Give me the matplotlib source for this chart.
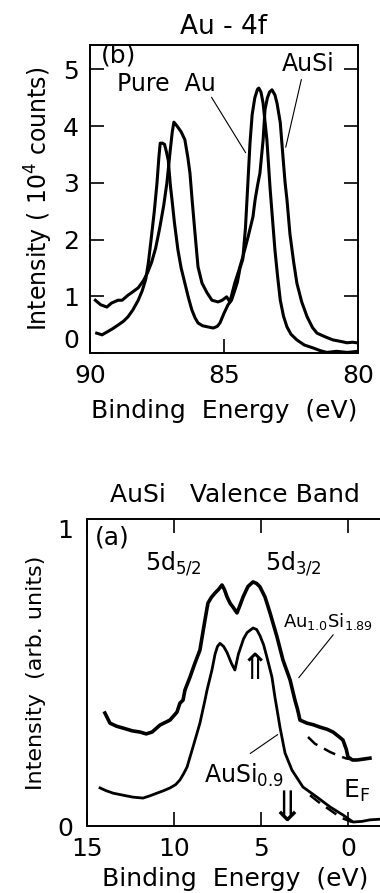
import matplotlib
matplotlib.use("Agg")
import matplotlib.pyplot as plt

plt.rcParams['font.family'] = ['DejaVu Sans']
plt.rcParams['mathtext.default'] = 'regular'

# ---- (b) Au-4f core level ----
pure_e = [89.75, 89.55, 89.33, 89.15, 88.96, 88.75, 88.58, 88.4, 88.2, 88.05, 87.92,
          87.82, 87.72, 87.6, 87.5, 87.43, 87.38, 87.3, 87.22, 87.15, 87.08, 87.0,
          86.94, 86.85, 86.72, 86.6, 86.46, 86.33, 86.2, 86.08, 85.97, 85.8, 85.6,
          85.4, 85.25, 85.15, 85.0, 84.85, 84.72, 84.6, 84.5, 84.4, 84.3, 84.2,
          84.12, 84.03, 83.95, 83.85, 83.75, 83.7, 83.62, 83.54, 83.4, 83.28,
          83.18, 83.1, 83.0, 82.9, 82.78, 82.65, 82.5, 82.28, 82.0, 81.68, 81.4,
          81.16, 80.8, 80.4, 80.0]
pure_i = [0.35, 0.32, 0.38, 0.43, 0.49, 0.56, 0.64, 0.76, 0.93, 1.1, 1.3,
          1.6, 2.0, 2.5, 3.0, 3.45, 3.70, 3.70, 3.68, 3.55, 3.4, 2.95,
          2.7, 2.3, 1.82, 1.5, 1.23, 0.98, 0.76, 0.62, 0.53, 0.48, 0.46,
          0.44, 0.47, 0.53, 0.7, 0.85, 0.93, 1.1, 1.25, 1.5, 1.65, 2.2,
          2.9, 3.7, 4.2, 4.5, 4.65, 4.67, 4.6, 4.4, 3.76, 2.9,
          2.3, 1.82, 1.35, 0.93, 0.65, 0.46, 0.33, 0.23, 0.14, 0.09, 0.04,
          0.01, 0.03, 0.01, 0.03]

ausi_e = [89.8, 89.6, 89.37, 89.2, 88.96, 88.8, 88.58, 88.4, 88.2, 88.0, 87.85,
          87.7, 87.55, 87.4, 87.25, 87.13, 87.0, 86.93, 86.87, 86.75, 86.6, 86.46,
          86.35, 86.27, 86.19, 86.08, 85.97, 85.82, 85.63, 85.45, 85.22, 85.07,
          84.9, 84.78, 84.6, 84.45, 84.3, 84.1, 83.92, 83.84, 83.75, 83.66, 83.54,
          83.47, 83.38, 83.3, 83.21, 83.1, 83.02, 82.9, 82.8, 82.72, 82.65, 82.54,
          82.4, 82.28, 82.1, 81.9, 81.7, 81.53, 81.2, 80.93, 80.6, 80.41, 80.2, 80.04]
ausi_i = [0.93, 0.85, 0.81, 0.88, 0.93, 0.93, 1.02, 1.08, 1.15, 1.28, 1.42,
          1.6, 1.85, 2.2, 2.6, 3.0, 3.6, 3.9, 4.07, 4.0, 3.9, 3.76,
          3.45, 3.17, 2.7, 2.1, 1.52, 1.23, 1.06, 0.93, 0.9, 0.93,
          0.99, 0.9, 1.23, 1.45, 1.69, 2.05, 2.4, 2.7, 2.95, 3.17, 3.76,
          4.29, 4.5, 4.6, 4.64, 4.55, 4.4, 4.06, 3.46, 3.0, 2.7, 2.1,
          1.6, 1.23, 0.9, 0.64, 0.45, 0.35, 0.28, 0.23, 0.2, 0.18, 0.19, 0.18]

core_xticks = [90, 85, 80]
core_yticks = [0, 1, 2, 3, 4, 5]

# ---- (a) valence band ----
hi_e = [13.97, 13.68, 13.3, 12.93, 12.4, 11.95, 11.6, 11.26, 10.8, 10.23, 9.83,
        9.66, 9.48, 9.37, 9.08, 8.8, 8.51, 8.22, 8.05, 7.85, 7.64, 7.45, 7.24,
        7.1, 6.95, 6.78, 6.61, 6.38, 6.2, 6.03, 5.75, 5.46, 5.25, 5.06, 4.77,
        4.48, 4.08, 3.74, 3.33, 3.05, 2.9, 2.76, 2.36, 2.0, 1.61, 1.2, 0.86,
        0.5, 0.29, 0.1, 0.0, -0.25, -0.52, -0.9, -1.26]
hi_i = [0.368, 0.335, 0.325, 0.319, 0.31, 0.306, 0.30, 0.306, 0.329, 0.345, 0.371,
        0.40, 0.41, 0.443, 0.485, 0.53, 0.573, 0.671, 0.726, 0.745, 0.759, 0.77, 0.785,
        0.77, 0.746, 0.726, 0.713, 0.694, 0.72, 0.746, 0.78, 0.795, 0.79, 0.779, 0.746,
        0.694, 0.616, 0.541, 0.476, 0.41, 0.38, 0.345, 0.335, 0.33, 0.322, 0.315, 0.306,
        0.29, 0.28, 0.25, 0.225, 0.215, 0.215, 0.218, 0.221]

lo_e = [14.25, 13.9, 13.5, 12.9, 12.36, 11.78, 11.4, 10.98, 10.6, 10.23, 9.9,
        9.66, 9.45, 9.25, 8.91, 8.51, 8.22, 8.1, 7.82, 7.64, 7.5, 7.36, 7.15,
        6.95, 6.7, 6.5, 6.3, 6.0, 5.8, 5.46, 5.25, 5.06, 4.85, 4.66, 4.37,
        4.2, 4.08, 3.91, 3.62, 3.22, 2.59, 1.78, 1.03, 0.29, -0.29, -0.8,
        -1.26, -1.8]
lo_i = [0.124, 0.115, 0.107, 0.1, 0.094, 0.091, 0.098, 0.107, 0.115, 0.124, 0.135,
        0.15, 0.17, 0.192, 0.257, 0.335, 0.41, 0.443, 0.508, 0.56, 0.585, 0.595, 0.585,
        0.565, 0.53, 0.508, 0.56, 0.61, 0.63, 0.645, 0.64, 0.62, 0.59, 0.55, 0.485,
        0.42, 0.38, 0.322, 0.238, 0.182, 0.127, 0.094, 0.062, 0.036, 0.013, 0.015,
        0.02, 0.022]

hi_bg_e = [2.3, 1.9, 1.44, 1.03, 0.5, 0.1, -0.1]
hi_bg_i = [0.29, 0.268, 0.254, 0.241, 0.228, 0.22, 0.218]
lo_bg_e = [2.18, 1.6, 1.03, 0.4, -0.23]
lo_bg_i = [0.1, 0.074, 0.052, 0.027, 0.013]

vb_xticks = [15, 10, 5, 0]

fs = 18

fig = plt.figure(figsize=(3.8, 8.93), dpi=100)

# top panel
ax = fig.add_axes([90 / 380, 540 / 893, 268 / 380, 308 / 893])
ax.plot(pure_e, pure_i, color='black', lw=2.2)
ax.plot(ausi_e, ausi_i, color='black', lw=2.2)
ax.set_xlim(90, 80)
ax.set_ylim(0, 5.43)
ax.set_xticks(core_xticks)
ax.set_yticks(core_yticks)
ax.tick_params(axis='both', direction='in', length=10, width=1.2, labelsize=fs,
               right=True, top=False, pad=8)
ax.yaxis.get_major_ticks()[0].label1.set_va('bottom')
for s in ax.spines.values():
    s.set_linewidth(1.4)
ax.set_title('Au - 4f', fontsize=19, pad=8)
ax.set_xlabel('Binding  Energy  (eV)', fontsize=fs, labelpad=8)
ax.set_ylabel('Intensity ( 10$^4$ counts)', fontsize=17, labelpad=6)
ax.text(89.6, 5.25, '(b)', fontsize=fs, va='center', ha='left')
ax.text(89.0, 4.75, 'Pure  Au', fontsize=17, va='center', ha='left')
ax.text(82.85, 5.1, 'AuSi', fontsize=17, va='center', ha='left')
ax.annotate('', xy=(84.14, 3.49), xytext=(85.52, 4.55),
            arrowprops=dict(arrowstyle='-', lw=0.8, color='black'))
ax.annotate('', xy=(82.72, 3.58), xytext=(82.09, 4.87),
            arrowprops=dict(arrowstyle='-', lw=0.8, color='black'))

# bottom panel
bx = fig.add_axes([87 / 380, 67 / 893, 295.8 / 380, 307 / 893])
bx.plot(hi_e, hi_i, color='black', lw=2.6)
bx.plot(lo_e, lo_i, color='black', lw=2.0)
bx.plot(hi_bg_e, hi_bg_i, color='black', lw=1.8, ls=(0, (5, 3)))
bx.plot(lo_bg_e, lo_bg_i, color='black', lw=1.8, ls=(0, (5, 3)))
bx.set_xlim(15, -2)
bx.set_ylim(0, 1)
bx.set_xticks(vb_xticks)
bx.set_yticks([0, 1])
bx.tick_params(axis='x', direction='in', length=10, width=1.2, labelsize=fs,
               top=True, pad=8)
bx.tick_params(axis='y', length=0, labelsize=fs, pad=10)
bx.yaxis.get_major_ticks()[1].label1.set_va('top')
for s in bx.spines.values():
    s.set_linewidth(1.4)
bx.set_title('AuSi   Valence Band', fontsize=18, pad=12)
bx.set_xlabel('Binding  Energy  (eV)', fontsize=fs, labelpad=4)
bx.set_ylabel('Intensity  (arb. units)', fontsize=16, labelpad=8)
bx.text(14.55, 0.94, '(a)', fontsize=fs, va='center', ha='left')
bx.text(11.67, 0.855, '5d$_{5/2}$', fontsize=17, va='center', ha='left')
bx.text(4.77, 0.855, '5d$_{3/2}$', fontsize=17, va='center', ha='left')
bx.text(3.75, 0.665, 'Au$_{1.0}$Si$_{1.89}$', fontsize=13, va='center', ha='left')
bx.text(8.3, 0.166, 'AuSi$_{0.9}$', fontsize=17, va='center', ha='left')
bx.text(0.3, 0.115, 'E$_F$', fontsize=fs, va='center', ha='left')
bx.text(5.35, 0.51, '\u21d1', fontsize=26, va='center', ha='center')
bx.text(3.5, 0.055, '\u21d3', fontsize=30, va='center', ha='center')
bx.annotate('', xy=(2.93, 0.476), xytext=(0.75, 0.63),
            arrowprops=dict(arrowstyle='-', lw=0.8, color='black'))
bx.annotate('', xy=(3.91, 0.303), xytext=(5.75, 0.231),
            arrowprops=dict(arrowstyle='-', lw=0.8, color='black'))

fig.savefig('out.png', dpi=100)
